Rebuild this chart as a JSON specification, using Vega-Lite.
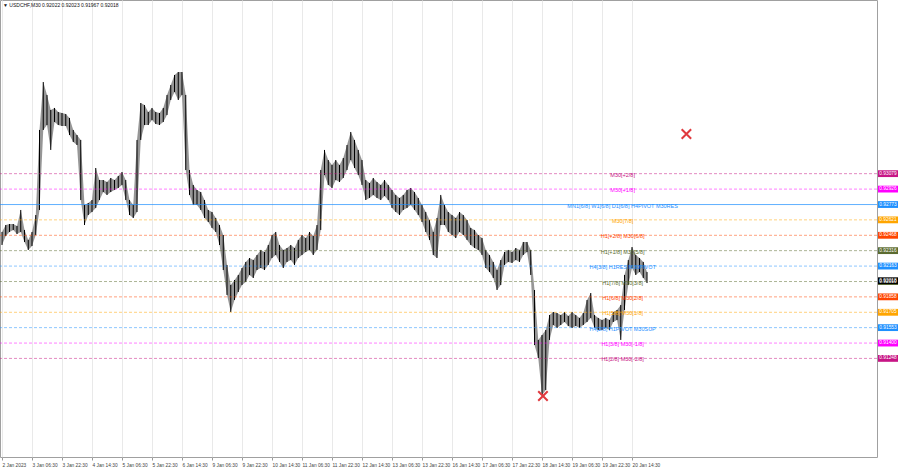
{
  "$schema": "https://vega.github.io/schema/vega-lite/v6.json",
  "width": 877,
  "height": 457,
  "autosize": {"type": "none"},
  "padding": {"left": 0, "top": 0, "right": 23, "bottom": 11},
  "background": "white",
  "title": {"text": "▼ USDCHF,M30  0.92022 0.92023 0.91967 0.92018", "anchor": "start", "orient": "top", "frame": "group", "offset": -8, "dx": 3, "fontSize": 5, "fontWeight": "normal", "color": "#111", "font": "Liberation Sans"},
  "datasets": {
    "bars": [
      {"bar":0,"high":0.92501,"low":0.92372},{"bar":4,"high":0.92570,"low":0.92461},{"bar":8,"high":0.92580,"low":0.92501},{"bar":12,"high":0.92580,"low":0.92521},
      {"bar":16,"high":0.92560,"low":0.92481},{"bar":20,"high":0.92719,"low":0.92501},{"bar":24,"high":0.92521,"low":0.92402},{"bar":28,"high":0.92422,"low":0.92323},
      {"bar":32,"high":0.92501,"low":0.92362},{"bar":36,"high":0.92669,"low":0.92471},{"bar":40,"high":0.93512,"low":0.92719},{"bar":44,"high":0.93987,"low":0.93512},
      {"bar":48,"high":0.93859,"low":0.93561},{"bar":52,"high":0.93710,"low":0.93314},{"bar":56,"high":0.93730,"low":0.93591},{"bar":60,"high":0.93690,"low":0.93561},
      {"bar":64,"high":0.93680,"low":0.93551},{"bar":68,"high":0.93670,"low":0.93551},{"bar":72,"high":0.93631,"low":0.93462},{"bar":76,"high":0.93512,"low":0.93393},
      {"bar":80,"high":0.93462,"low":0.93363},{"bar":84,"high":0.93413,"low":0.92818},{"bar":88,"high":0.92768,"low":0.92570},{"bar":92,"high":0.92788,"low":0.92669},
      {"bar":96,"high":0.92818,"low":0.92699},{"bar":100,"high":0.93135,"low":0.92739},{"bar":104,"high":0.93016,"low":0.92818},{"bar":108,"high":0.93016,"low":0.92897},
      {"bar":112,"high":0.92996,"low":0.92868},{"bar":116,"high":0.93036,"low":0.92897},{"bar":120,"high":0.93016,"low":0.92917},{"bar":124,"high":0.93056,"low":0.92937},
      {"bar":128,"high":0.93095,"low":0.92967},{"bar":132,"high":0.93016,"low":0.92818},{"bar":136,"high":0.92818,"low":0.92669},{"bar":140,"high":0.92768,"low":0.92640},
      {"bar":144,"high":0.93413,"low":0.92699},{"bar":148,"high":0.93779,"low":0.93413},{"bar":152,"high":0.93759,"low":0.93561},{"bar":156,"high":0.93690,"low":0.93561},
      {"bar":160,"high":0.93730,"low":0.93611},{"bar":164,"high":0.93690,"low":0.93571},{"bar":168,"high":0.93680,"low":0.93561},{"bar":172,"high":0.93730,"low":0.93591},
      {"bar":176,"high":0.93859,"low":0.93660},{"bar":180,"high":0.93958,"low":0.93809},{"bar":184,"high":0.94057,"low":0.93888},{"bar":188,"high":0.94086,"low":0.93809},
      {"bar":192,"high":0.94086,"low":0.93859},{"bar":196,"high":0.93859,"low":0.93115},{"bar":200,"high":0.93115,"low":0.92868},{"bar":204,"high":0.92967,"low":0.92768},
      {"bar":208,"high":0.92917,"low":0.92768},{"bar":212,"high":0.92897,"low":0.92719},{"bar":216,"high":0.92818,"low":0.92640},{"bar":220,"high":0.92719,"low":0.92600},
      {"bar":224,"high":0.92699,"low":0.92541},{"bar":228,"high":0.92640,"low":0.92501},{"bar":232,"high":0.92570,"low":0.92372},{"bar":236,"high":0.92471,"low":0.92124},
      {"bar":240,"high":0.92174,"low":0.91877},{"bar":244,"high":0.91976,"low":0.91708},{"bar":248,"high":0.92025,"low":0.91827},{"bar":252,"high":0.92075,"low":0.91906},
      {"bar":256,"high":0.92144,"low":0.91976},{"bar":260,"high":0.92204,"low":0.92005},{"bar":264,"high":0.92243,"low":0.92075},{"bar":268,"high":0.92223,"low":0.92045},
      {"bar":272,"high":0.92273,"low":0.92124},{"bar":276,"high":0.92323,"low":0.92144},{"bar":280,"high":0.92303,"low":0.92124},{"bar":284,"high":0.92372,"low":0.92174},
      {"bar":288,"high":0.92471,"low":0.92243},{"bar":292,"high":0.92501,"low":0.92273},{"bar":296,"high":0.92372,"low":0.92204},{"bar":300,"high":0.92323,"low":0.92144},
      {"bar":304,"high":0.92342,"low":0.92204},{"bar":308,"high":0.92372,"low":0.92223},{"bar":312,"high":0.92342,"low":0.92174},{"bar":316,"high":0.92422,"low":0.92243},
      {"bar":320,"high":0.92471,"low":0.92273},{"bar":324,"high":0.92441,"low":0.92303},{"bar":328,"high":0.92501,"low":0.92323},{"bar":332,"high":0.92461,"low":0.92273},
      {"bar":336,"high":0.92570,"low":0.92323},{"bar":340,"high":0.93115,"low":0.92521},{"bar":344,"high":0.93314,"low":0.93066},{"bar":348,"high":0.93214,"low":0.92967},
      {"bar":352,"high":0.93165,"low":0.92937},{"bar":356,"high":0.93214,"low":0.93016},{"bar":360,"high":0.93165,"low":0.92996},{"bar":364,"high":0.93234,"low":0.93036},
      {"bar":368,"high":0.93363,"low":0.93115},{"bar":372,"high":0.93492,"low":0.93214},{"bar":376,"high":0.93413,"low":0.93135},{"bar":380,"high":0.93314,"low":0.93066},
      {"bar":384,"high":0.93214,"low":0.92967},{"bar":388,"high":0.93016,"low":0.92818},{"bar":392,"high":0.92986,"low":0.92838},{"bar":396,"high":0.93036,"low":0.92868},
      {"bar":400,"high":0.92996,"low":0.92838},{"bar":404,"high":0.92967,"low":0.92818},{"bar":408,"high":0.93016,"low":0.92858},{"bar":412,"high":0.92967,"low":0.92818},
      {"bar":416,"high":0.92917,"low":0.92739},{"bar":420,"high":0.92868,"low":0.92699},{"bar":424,"high":0.92838,"low":0.92669},{"bar":428,"high":0.92868,"low":0.92719},
      {"bar":432,"high":0.92917,"low":0.92739},{"bar":436,"high":0.92937,"low":0.92768},{"bar":440,"high":0.92897,"low":0.92719},{"bar":444,"high":0.92838,"low":0.92669},
      {"bar":448,"high":0.92768,"low":0.92600},{"bar":452,"high":0.92699,"low":0.92501},{"bar":456,"high":0.92620,"low":0.92422},{"bar":460,"high":0.92501,"low":0.92273},
      {"bar":464,"high":0.92640,"low":0.92243},{"bar":468,"high":0.92868,"low":0.92570},{"bar":472,"high":0.92768,"low":0.92570},{"bar":476,"high":0.92699,"low":0.92501},
      {"bar":480,"high":0.92669,"low":0.92471},{"bar":484,"high":0.92640,"low":0.92441},{"bar":488,"high":0.92699,"low":0.92501},{"bar":492,"high":0.92669,"low":0.92471},
      {"bar":496,"high":0.92620,"low":0.92422},{"bar":500,"high":0.92541,"low":0.92372},{"bar":504,"high":0.92521,"low":0.92342},{"bar":508,"high":0.92471,"low":0.92323},
      {"bar":512,"high":0.92441,"low":0.92273},{"bar":516,"high":0.92323,"low":0.92144},{"bar":520,"high":0.92273,"low":0.92104},{"bar":524,"high":0.92204,"low":0.92045},
      {"bar":528,"high":0.92124,"low":0.91926},{"bar":532,"high":0.92223,"low":0.91976},{"bar":536,"high":0.92303,"low":0.92174},{"bar":540,"high":0.92323,"low":0.92204},
      {"bar":544,"high":0.92303,"low":0.92194},{"bar":548,"high":0.92342,"low":0.92223},{"bar":552,"high":0.92323,"low":0.92204},{"bar":556,"high":0.92402,"low":0.92273},
      {"bar":560,"high":0.92402,"low":0.92303},{"bar":564,"high":0.92323,"low":0.92075},{"bar":568,"high":0.91926,"low":0.91381},{"bar":572,"high":0.91431,"low":0.91252},
      {"bar":576,"high":0.91480,"low":0.90886},{"bar":580,"high":0.91530,"low":0.90935},{"bar":584,"high":0.91678,"low":0.91431},{"bar":588,"high":0.91708,"low":0.91579},
      {"bar":592,"high":0.91698,"low":0.91550},{"bar":596,"high":0.91678,"low":0.91579},{"bar":600,"high":0.91708,"low":0.91609},{"bar":604,"high":0.91668,"low":0.91569},
      {"bar":608,"high":0.91708,"low":0.91550},{"bar":612,"high":0.91678,"low":0.91569},{"bar":616,"high":0.91649,"low":0.91550},{"bar":620,"high":0.91698,"low":0.91579},
      {"bar":624,"high":0.91827,"low":0.91609},{"bar":628,"high":0.91896,"low":0.91649},{"bar":632,"high":0.91678,"low":0.91550},{"bar":636,"high":0.91649,"low":0.91530},
      {"bar":640,"high":0.91629,"low":0.91530},{"bar":644,"high":0.91649,"low":0.91550},{"bar":648,"high":0.91629,"low":0.91530},{"bar":652,"high":0.91708,"low":0.91609},
      {"bar":656,"high":0.91728,"low":0.91629},{"bar":660,"high":0.91777,"low":0.91431},{"bar":664,"high":0.92075,"low":0.91728},{"bar":668,"high":0.92223,"low":0.91976},
      {"bar":672,"high":0.92352,"low":0.92144},{"bar":676,"high":0.92273,"low":0.92075},{"bar":680,"high":0.92243,"low":0.92104},{"bar":684,"high":0.92204,"low":0.92045},
      {"bar":688,"high":0.92104,"low":0.91995}
    ],
    "levels": [
      {"price":0.93079,"m30":"+2/8","label":"M30[+2/8]"},
      {"price":0.92926,"m30":"+1/8","label":"M30[+1/8]"},
      {"price":0.92773,"m30":"8/8","label":"MN1[6/8] W1[6/8] D1[6/8] H4PIVOT M30RES"},
      {"price":0.92621,"m30":"7/8","label":"M30[7/8]"},
      {"price":0.92468,"m30":"6/8","label":"H1[+2/8] M30[6/8]"},
      {"price":0.92316,"m30":"5/8","label":"H1[+1/8] M30[5/8]"},
      {"price":0.92163,"m30":"4/8","label":"H4[3/8] H1RES M30PIVOT"},
      {"price":0.92010,"m30":"3/8","label":"H1[7/8] M30[3/8]"},
      {"price":0.91858,"m30":"2/8","label":"H1[6/8] M30[2/8]"},
      {"price":0.91705,"m30":"1/8","label":"H1[5/8] M30[1/8]"},
      {"price":0.91553,"m30":"0/8","label":"H4[2/8] H1PIVOT M30SUP"},
      {"price":0.91400,"m30":"-1/8","label":"H1[3/8] M30[-1/8]"},
      {"price":0.91248,"m30":"-2/8","label":"H1[2/8] M30[-2/8]"}
    ],
    "last": [{"price": 0.92018}],
    "signals": [{"bar": 577, "price": 0.90876}, {"bar": 730, "price": 0.93472}]
  },
  "layer": [
    {
      "data": {"name": "bars"},
      "mark": {"type": "area", "color": "#6a6a6a", "opacity": 0.7},
      "encoding": {
        "x": {"field": "bar", "type": "quantitative", "scale": {"domain": [-2.133, 933.3], "nice": false, "zero": false},
          "axis": {"values": [0,32,64,96,128,160,192,224,256,288,320,352,384,416,448,480,512,544,576,608,640,672],
            "labelExpr": "['2 Jan 2023','3 Jan 06:30','3 Jan 22:30','4 Jan 14:30','5 Jan 06:30','5 Jan 22:30','6 Jan 14:30','9 Jan 06:30','9 Jan 22:30','10 Jan 14:30','11 Jan 06:30','11 Jan 22:30','12 Jan 14:30','13 Jan 06:30','13 Jan 22:30','16 Jan 14:30','17 Jan 06:30','17 Jan 22:30','18 Jan 14:30','19 Jan 06:30','19 Jan 22:30','20 Jan 14:30'][round(datum.value/32)]",
            "title": null, "labelAlign": "left", "labelFontSize": 4.8, "labelFont": "Liberation Sans", "labelColor": "#444", "labelPadding": 2, "tickSize": 3, "tickColor": "#999", "domain": false, "grid": true, "gridColor": "#e9e9e9", "labelOverlap": false, "labelFlush": false}},
        "y": {"field": "high", "type": "quantitative", "scale": {"domain": [0.90271, 0.948], "nice": false, "zero": false},
          "axis": {"orient": "right", "values": [0.9474,0.94585,0.94435,0.9428,0.9413,0.93975,0.93825,0.9367,0.9352,0.93365,0.9321,0.9306,0.92905,0.9275,0.926,0.92445,0.9229,0.9214,0.91985,0.91835,0.9168,0.9153,0.91375,0.91225,0.91075,0.90925,0.9077,0.90615,0.90465,0.9031],
            "labelExpr": "(datum.value > 0.9115 && datum.value < 0.9315) ? '' : format(datum.value, '.5f')",
            "title": null, "labelFontSize": 4.8, "labelFont": "Liberation Sans", "labelColor": "#444", "labelPadding": 1, "tickSize": 2, "tickColor": "#999", "domain": false, "grid": true, "gridColor": "#e9e9e9", "labelOverlap": false, "labelFlush": false}},
        "y2": {"field": "low"}
      }
    },
    {
      "data": {"name": "bars"},
      "mark": {"type": "rule", "color": "#000", "strokeWidth": 1},
      "encoding": {
        "x": {"field": "bar", "type": "quantitative"},
        "y": {"field": "high", "type": "quantitative"},
        "y2": {"field": "low"}
      }
    },
    {
      "data": {"name": "levels"},
      "mark": {"type": "rule", "strokeWidth": 1},
      "encoding": {
        "y": {"field": "price", "type": "quantitative", "axis": null},
        "color": {"field": "m30", "type": "nominal", "legend": null,
          "scale": {"domain": ["+2/8","+1/8","8/8","7/8","6/8","5/8","4/8","3/8","2/8","1/8","0/8","-1/8","-2/8"],
            "range": ["#c71585","#ff00ff","#1e90ff","#ffa500","#ff4500","#5b6b2f","#1e90ff","#5b6b2f","#ff4500","#ffa500","#1e90ff","#ff00ff","#c71585"]}},
        "strokeDash": {"condition": {"test": "datum.m30 === '8/8'", "value": [1, 0]}, "value": [3, 2]},
        "opacity": {"condition": {"test": "datum.m30 === '8/8'", "value": 0.7}, "value": 0.5}
      }
    },
    {
      "data": {"name": "levels"},
      "mark": {"type": "text", "fontSize": 5.5, "font": "Liberation Sans", "align": "center", "baseline": "middle", "dy": 1},
      "encoding": {
        "x": {"datum": 662, "type": "quantitative"},
        "y": {"field": "price", "type": "quantitative", "axis": null},
        "text": {"field": "label"},
        "color": {"field": "m30", "type": "nominal", "legend": null}
      }
    },
    {
      "data": {"name": "levels"},
      "mark": {"type": "point", "shape": "M-1,-0.34H1V0.34H-1Z", "size": 400, "filled": true, "opacity": 1, "strokeWidth": 0, "x": {"expr": "width + 11"}, "clip": false},
      "encoding": {
        "y": {"field": "price", "type": "quantitative", "axis": null},
        "color": {"field": "m30", "type": "nominal", "legend": null}
      }
    },
    {
      "data": {"name": "last"},
      "mark": {"type": "point", "shape": "M-1,-0.34H1V0.34H-1Z", "size": 400, "filled": true, "opacity": 1, "strokeWidth": 0, "color": "#000", "x": {"expr": "width + 11"}, "clip": false},
      "encoding": {
        "y": {"field": "price", "type": "quantitative", "axis": null}
      }
    },
    {
      "data": {"name": "levels"},
      "mark": {"type": "text", "fontSize": 4.8, "font": "Liberation Sans", "align": "center", "baseline": "middle", "color": "white", "x": {"expr": "width + 11"}, "clip": false},
      "encoding": {
        "y": {"field": "price", "type": "quantitative", "axis": null},
        "text": {"field": "price", "type": "quantitative", "format": ".5f"}
      }
    },
    {
      "data": {"name": "last"},
      "mark": {"type": "text", "fontSize": 4.8, "font": "Liberation Sans", "align": "center", "baseline": "middle", "color": "white", "x": {"expr": "width + 11"}, "clip": false},
      "encoding": {
        "y": {"field": "price", "type": "quantitative", "axis": null},
        "text": {"field": "price", "type": "quantitative", "format": ".5f"}
      }
    },
    {
      "data": {"name": "signals"},
      "mark": {"type": "point", "shape": "M-1,-1L1,1M1,-1L-1,1", "size": 90, "filled": false, "strokeWidth": 2, "color": "#e0393e", "opacity": 1},
      "encoding": {
        "x": {"field": "bar", "type": "quantitative"},
        "y": {"field": "price", "type": "quantitative", "axis": null}
      }
    }
  ],
  "config": {
    "view": {"stroke": "#a0a0a0", "strokeWidth": 1},
    "font": "Liberation Sans"
  }
}
